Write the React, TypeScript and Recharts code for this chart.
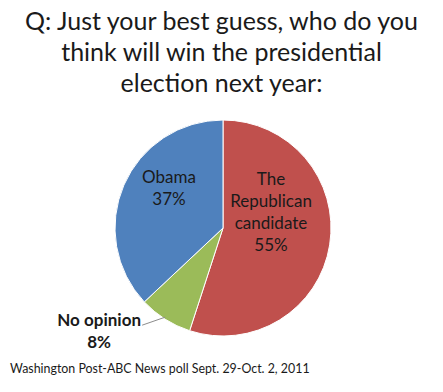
import { PieChart, Pie, Cell } from "recharts";

const LABELS = ["The Republican candidate", "No opinion", "Obama"];
const VALUES = [55, 8, 37];
const COLORS = ["#C0504D", "#9BBB59", "#4F81BD"];

const TITLE = ["Q: Just your best guess, who do you", "think will win the presidential", "election next year:"];
const SOURCE = "Washington Post-ABC News poll Sept. 29-Oct. 2, 2011";

const FONT = "Lato, 'Open Sans', sans-serif";
const RADIAN = Math.PI / 180;

const data = LABELS.map((name, i) => ({ name, value: VALUES[i] }));

function SliceLabel(props: any) {
  const { cx, cy, midAngle, outerRadius, index, value } = props;
  const txt = { fontFamily: FONT, fill: "#1a1a1a", textAnchor: "middle" as const };

  if (index === 0) {
    const x = cx + 48;
    const y = cy - 43;
    return (
      <text x={x} y={y} fontSize={17} {...txt}>
        <tspan x={x} dy={0}>The</tspan>
        <tspan x={x} dy={22}>Republican</tspan>
        <tspan x={x} dy={22}>candidate</tspan>
        <tspan x={x} dy={22}>{value}%</tspan>
      </text>
    );
  }
  if (index === 2) {
    const x = cx - 54;
    const y = cy - 45;
    return (
      <text x={x} y={y} fontSize={17} {...txt}>
        <tspan x={x} dy={0}>Obama</tspan>
        <tspan x={x} dy={22}>{value}%</tspan>
      </text>
    );
  }
  // No opinion: outside, with a leader line
  const sx = cx + outerRadius * Math.cos(-midAngle * RADIAN);
  const sy = cy + outerRadius * Math.sin(-midAngle * RADIAN) - 2;
  const ex = sx - 23;
  const ey = sy + 8;
  return (
    <g>
      <polyline points={`${sx},${sy} ${ex},${ey}`} stroke="#8c8c8c" fill="none" strokeWidth={1} />
      <text x={ex - 43} y={ey + 1} fontSize={17} fontWeight={700} {...txt}>
        <tspan x={ex - 43} dy={0}>No opinion</tspan>
        <tspan x={ex - 43} dy={22}>{value}%</tspan>
      </text>
    </g>
  );
}

export default function App() {
  return (
    <div style={{ position: "absolute", left: 0, top: 0, width: 443, height: 392, background: "#fff", overflow: "hidden" }}>
      <div
        style={{
          position: "absolute",
          left: 0,
          top: 5,
          width: 443,
          textAlign: "center",
          fontFamily: FONT,
          fontSize: 25,
          lineHeight: "31px",
          color: "#1a1a1a",
        }}
      >
        {TITLE.map((t) => (
          <div key={t}>{t}</div>
        ))}
      </div>
      <div style={{ position: "absolute", left: 0, top: 0 }}>
        <PieChart width={443} height={392}>
          <Pie
            data={data}
            dataKey="value"
            nameKey="name"
            cx={218}
            cy={223}
            outerRadius={108}
            startAngle={90}
            endAngle={-270}
            stroke="#ffffff"
            strokeWidth={1}
            label={SliceLabel}
            labelLine={false}
            isAnimationActive={false}
          >
            {data.map((_, i) => (
              <Cell key={i} fill={COLORS[i]} />
            ))}
          </Pie>
        </PieChart>
      </div>
      <div
        style={{
          position: "absolute",
          left: 10,
          top: 361,
          fontFamily: FONT,
          fontSize: 12.4,
          color: "#1a1a1a",
          whiteSpace: "nowrap",
        }}
      >
        {SOURCE}
      </div>
    </div>
  );
}
